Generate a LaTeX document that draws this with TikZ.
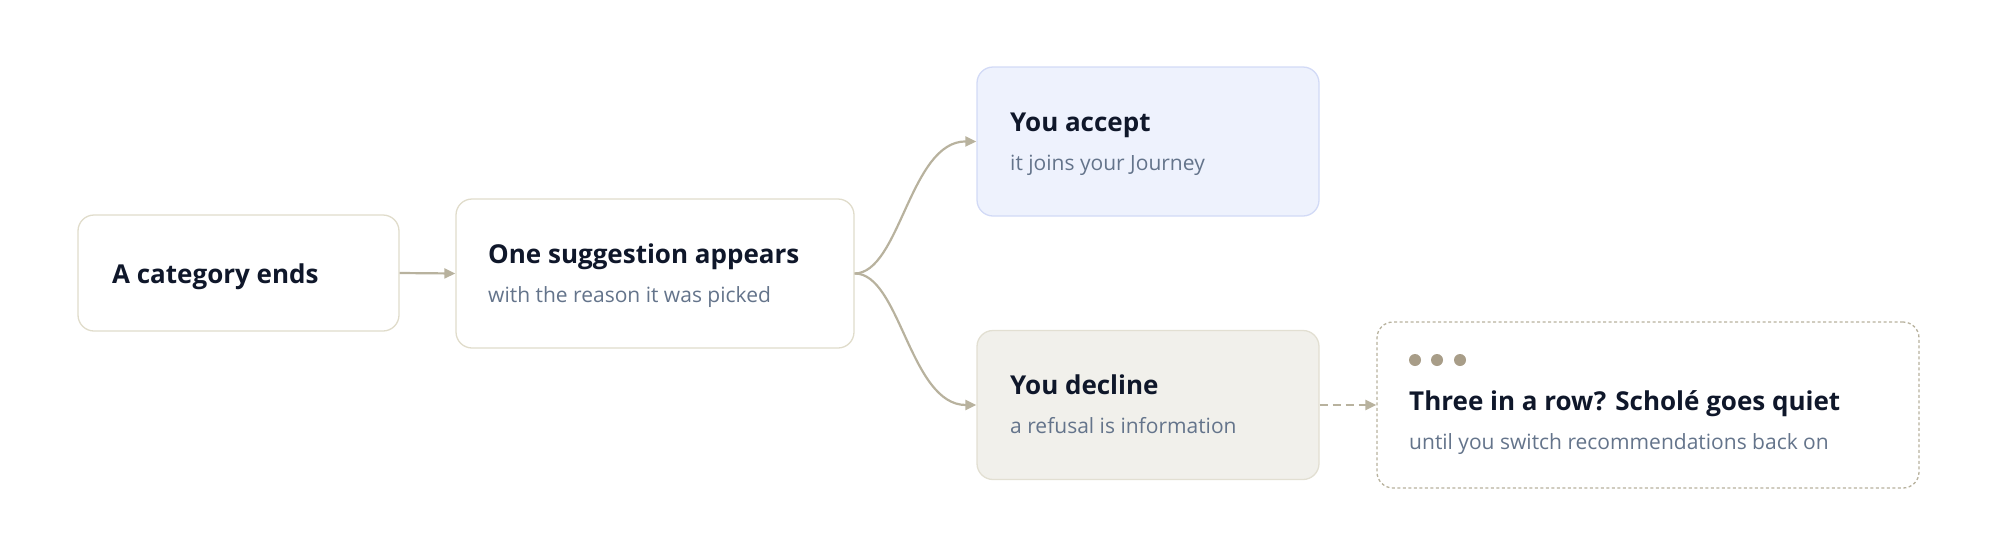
\documentclass[tikz,border=0pt]{standalone}
\usepackage{fontspec}
\setmainfont{Open Sans}
\usetikzlibrary{arrows.meta}
\definecolor{ink}{HTML}{0F172A}
\definecolor{sub}{HTML}{64748B}
\definecolor{bord}{HTML}{E0DCCB}
\definecolor{accf}{HTML}{EEF2FD}
\definecolor{accb}{HTML}{D2DAF6}
\definecolor{decf}{HTML}{F1F0EB}
\definecolor{decb}{HTML}{E2DFD2}
\definecolor{arr}{HTML}{B8B29E}
\definecolor{dot}{HTML}{A89D88}
\begin{document}
\begin{tikzpicture}[x=1pt,y=-1pt,
 box/.style={draw=bord,line width=1.3pt,rounded corners=16pt,fill=white,inner sep=0pt},
 ttl/.style={anchor=base west,inner sep=0pt,text=ink,font=\fontsize{26}{30}\selectfont\bfseries},
 sbt/.style={anchor=base west,inner sep=0pt,text=sub,font=\fontsize{21}{25}\selectfont},
 link/.style={draw=arr,line width=2.2pt,-{Triangle[length=11pt,width=10pt]}}]
\useasboundingbox (0,0) rectangle (1998,555);
\node[box,minimum width=321pt,minimum height=116pt] (a) at (238.5,273) {};
\node[box,minimum width=398pt,minimum height=149pt] (b) at (655,273.5) {};
\node[box,fill=accf,draw=accb,minimum width=342pt,minimum height=149pt] (acc) at (1148,141.5) {};
\node[box,fill=decf,draw=decb,minimum width=342pt,minimum height=149pt] (dec) at (1148,405) {};
\node[box,dashed,dash pattern=on 3pt off 2.5pt,draw=arr,minimum width=542pt,minimum height=166pt] (q) at (1648,405) {};
\node[ttl] (ta) at (112,283) {A category ends};
\node[ttl] (tb) at (488,263) {One suggestion appears};
\node[sbt] (sb) at (488,302) {with the reason it was picked};
\node[ttl] (tacc) at (1010,131) {You accept};
\node[sbt] (sacc) at (1010,170) {it joins your Journey};
\node[ttl] (tdec) at (1010,394) {You decline};
\node[sbt] (sdec) at (1010,433) {a refusal is information};
\fill[dot] (1415,360) circle (6pt) (1437,360) circle (6pt) (1460,360) circle (6pt);
\node[ttl] (tq) at (1409,410) {Three in a row? Scholé goes quiet};
\node[sbt] (sq) at (1409,449) {until you switch recommendations back on};
\draw[link] (a.east) -- (b.west);
\draw[link] (b.east) .. controls (900,273) and (910,141) .. (acc.west);
\draw[link] (b.east) .. controls (900,273) and (910,405) .. (dec.west);
\draw[link,dashed,dash pattern=on 8pt off 5pt] (dec.east) -- (q.west);
\end{tikzpicture}
\end{document}
